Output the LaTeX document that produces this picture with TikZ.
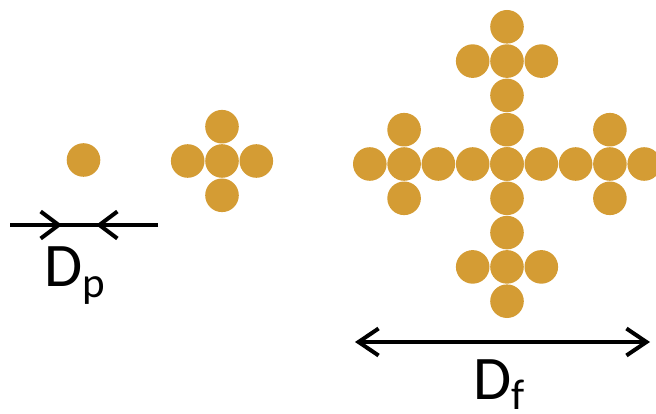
\documentclass[tikz,border=0pt]{standalone}
\usepackage{fontspec}
\setmainfont{Carlito}
\usetikzlibrary{arrows.meta,calc}
\definecolor{particle}{RGB}{212,156,52}
\tikzset{
  grain/.style={fill=particle},
  dimline/.style={line width=4pt, black},
  barb/.style={-{Straight Barb[length=18pt,width=27pt,line width=4pt]}},
  label/.style={inner sep=0pt, anchor=base, font=\fontsize{62}{62}\selectfont},
}
\newcommand{\subtxt}[1]{\raisebox{-10pt}{\fontsize{43}{43}\selectfont #1}}
\begin{document}
\begin{tikzpicture}[x=1pt,y=-1pt]
  \useasboundingbox (0,0) rectangle (656,414);
  \def\r{16.8}
  \def\s{34.3}
  % single primary particle
  \coordinate (p) at (83.5,160);
  \fill[grain] (p) circle (\r);
  % five-particle cluster
  \coordinate (c) at (222,161);
  \foreach \i/\j in {0/0,1/0,-1/0,0/1,0/-1}
    \fill[grain] ($(c)+(\i*\s,\j*\s)$) circle (\r);
  % large fractal aggregate
  \coordinate (f) at (507,164);
  \foreach \i in {-4,...,4} {
    \fill[grain] ($(f)+(\i*\s,0)$) circle (\r);
    \fill[grain] ($(f)+(0,\i*\s)$) circle (\r);
  }
  \foreach \i/\j in {-3/1,-3/-1,3/1,3/-1,1/-3,-1/-3,1/3,-1/3}
    \fill[grain] ($(f)+(\i*\s,\j*\s)$) circle (\r);
  % primary particle diameter
  \coordinate (dpa) at (10,225);
  \coordinate (dpl) at (62,225);
  \coordinate (dpr) at (96,225);
  \coordinate (dpb) at (158,225);
  \draw[dimline] (dpa) -- (dpb);
  \draw[dimline, barb] (dpa) -- (dpl);
  \draw[dimline, barb] (dpb) -- (dpr);
  \node[label] (dp) at (75,287) {D\subtxt{p}};
  % aggregate diameter
  \coordinate (dfl) at (355,342);
  \coordinate (dfr) at (650,342);
  \draw[dimline, {Straight Barb[length=20pt,width=27pt,line width=4pt]}-{Straight Barb[length=20pt,width=27pt,line width=4pt]}] (dfl) -- (dfr);
  \node[label] (df) at (499,399) {D\subtxt{f}};
\end{tikzpicture}
\end{document}
